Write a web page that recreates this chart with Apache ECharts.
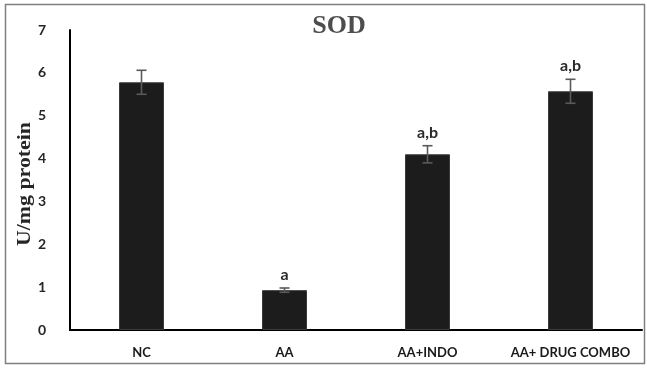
<!DOCTYPE html>
<html>
<head>
<meta charset="utf-8">
<script src="https://cdn.jsdelivr.net/npm/echarts@6/dist/echarts.min.js"></script>
<style>
  html, body { margin: 0; padding: 0; background: #fff; }
  #chart { width: 647px; height: 369px; }
</style>
</head>
<body>
<div id="chart"></div>
<script>
// SOD activity per group (mean ± error)
const groups = ['NC', 'AA', 'AA+INDO', 'AA+ DRUG COMBO'];
const sodMean = [5.78, 0.93, 4.10, 5.57];
const sodErr = [0.28, 0.05, 0.20, 0.28];
const sigLabels = ['', 'a', 'a,b', 'a,b'];
const yTicks = [0, 1, 2, 3, 4, 5, 6, 7];
const yTitle = 'U/mg protein';

const chart = echarts.init(document.getElementById('chart'), null, { renderer: 'canvas' });

const errData = groups.map((g, i) => [i, sodMean[i] - sodErr[i], sodMean[i] + sodErr[i]]);

const option = {
  animation: false,
  backgroundColor: '#ffffff',
  title: {
    text: 'SOD',
    left: 334,
    top: 8,
    textAlign: 'center',
    textStyle: { fontFamily: 'Liberation Serif', fontWeight: 'bold', fontSize: 26, color: '#4d4d4d' }
  },
  graphic: [
    {
      type: 'rect',
      shape: { x: 5.5, y: 4.5, width: 639, height: 359 },
      style: { fill: 'none', stroke: '#808080', lineWidth: 1.5 },
      z: 0
    },
    {
      // vertical axis title, slightly elongated along its reading direction
      type: 'text',
      x: 25,
      y: 184,
      rotation: Math.PI / 2,
      scaleX: 1.15,
      style: {
        text: yTitle,
        font: 'bold 19px "Liberation Serif"',
        fill: '#262626',
        textAlign: 'center',
        textVerticalAlign: 'middle'
      },
      z: 5
    }
  ],
  grid: { left: 70, right: 5, top: 30, bottom: 39, outerBoundsMode: 'none' },
  xAxis: {
    type: 'category',
    data: groups,
    axisLine: { lineStyle: { color: '#000', width: 2 } },
    axisTick: { show: false },
    axisLabel: { interval: 0, fontFamily: 'Lato', fontWeight: 'bold', fontSize: 13, color: '#1a1a1a', margin: 16 }
  },
  yAxis: {
    type: 'value',
    min: yTicks[0],
    max: yTicks[yTicks.length - 1],
    interval: 1,
    axisLine: { show: true, lineStyle: { color: '#000', width: 2 } },
    axisTick: { show: false },
    splitLine: { show: false },
    axisLabel: { fontFamily: 'Lato', fontWeight: 'bold', fontSize: 14, color: '#262626', margin: 24 }
  },
  series: [
    {
      type: 'bar',
      data: sodMean,
      barWidth: 45,
      itemStyle: { color: '#1c1c1c', borderColor: '#3a3a3a', borderWidth: 1 },
      z: 2
    },
    {
      type: 'custom',
      data: errData,
      z: 3,
      renderItem: function (params, api) {
        const x = api.coord([api.value(0), 0])[0];
        const lo = api.coord([api.value(0), api.value(1)])[1];
        const hi = api.coord([api.value(0), api.value(2)])[1];
        const cap = 5;
        const st = { stroke: '#5a5a5a', lineWidth: 1.6 };
        const children = [
          { type: 'line', shape: { x1: x, y1: lo, x2: x, y2: hi }, style: st },
          { type: 'line', shape: { x1: x - cap, y1: lo, x2: x + cap, y2: lo }, style: st },
          { type: 'line', shape: { x1: x - cap, y1: hi, x2: x + cap, y2: hi }, style: st }
        ];
        const lab = sigLabels[params.dataIndex];
        if (lab) {
          children.push({
            type: 'text',
            style: {
              text: lab, x: x, y: hi - 5,
              textAlign: 'center', textVerticalAlign: 'bottom',
              font: 'bold 16px Lato', fill: '#2a2a2a'
            }
          });
        }
        return { type: 'group', children: children };
      }
    }
  ]
};

chart.setOption(option);
</script>
</body>
</html>
